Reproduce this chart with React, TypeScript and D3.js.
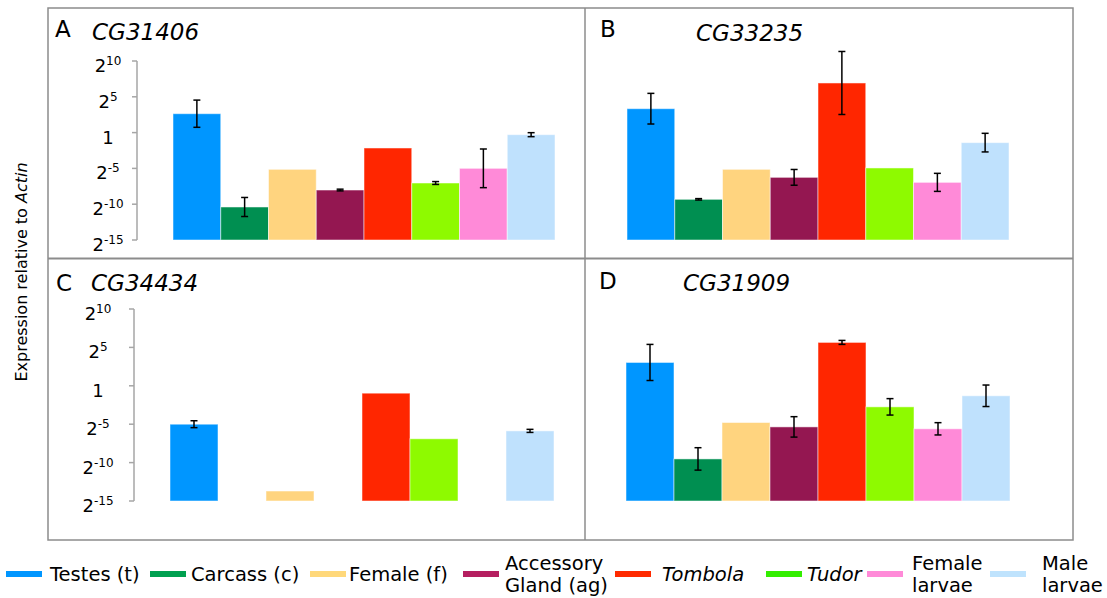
import React from 'react'
import * as d3 from 'd3'

// log2 expression relative to Actin
const tissues = ['Testes (t)', 'Carcass (c)', 'Female (f)', 'Accessory Gland (ag)', 'Tombola', 'Tudor', 'Female larvae', 'Male larvae']
const legendLines = [['Testes (t)'], ['Carcass (c)'], ['Female (f)'], ['Accessory', 'Gland (ag)'], ['Tombola'], ['Tudor'], ['Female', 'larvae'], ['Male', 'larvae']]
const italicTissues = ['Tombola', 'Tudor']

const genes = ['CG31406', 'CG33235', 'CG34434', 'CG31909']
const panelLetters = ['A', 'B', 'C', 'D']

const valuesA = [2.64, -10.39, -5.13, -8.02, -2.15, -7.04, -4.99, -0.29]
const errorsA = [1.9, 1.33, 0, 0.12, 0, 0.2, 2.7, 0.28]
const valuesB = [3.34, -9.32, -5.13, -6.25, 6.93, -4.94, -6.95, -1.4]
const errorsB = [2.14, 0.1, 0, 1.1, 4.4, 0, 1.26, 1.3]
const valuesC = [-5.0, null, -13.7, null, -0.96, -6.9, null, -5.87]
const errorsC = [0.45, 0, 0, 0, 0, 0, 0, 0.2]
const valuesD = [3.04, -9.52, -4.78, -5.35, 5.65, -2.74, -5.6, -1.3]
const errorsD = [2.35, 1.46, 0, 1.33, 0.26, 1.07, 0.8, 1.4]

const tickValues = [-15, -10, -5, 0, 5, 10]

const barColors = ['#0096ff', '#008f51', '#ffd47f', '#941751', '#ff2600', '#8efa00', '#ff8ad8', '#bfe1fd']
const legendColors = ['#0096ff', '#00a050', '#ffd87a', '#b51f60', '#ff2a00', '#33ee00', '#ff8ad8', '#bfe3fd']

const W = 1107
const H = 598
const FONT = 'DejaVu Sans, Verdana, sans-serif'

// layout of the 4 panels
const layout = [
  { x0: 173, x1: 555, yTop: 61, yBot: 240, axisX: 137, labelX: 108, letter: [55, 37], gene: [92, 40] },
  { x0: 627, x1: 1009, yTop: 61, yBot: 240, axisX: null, labelX: 0, letter: [600, 37], gene: [696, 41] },
  { x0: 170, x1: 554, yTop: 309, yBot: 501, axisX: 134, labelX: 98, letter: [56, 291], gene: [91, 291] },
  { x0: 626, x1: 1010, yTop: 309, yBot: 501, axisX: null, labelX: 0, letter: [599, 289], gene: [683, 291] },
]
const series = [
  [valuesA, errorsA],
  [valuesB, errorsB],
  [valuesC, errorsC],
  [valuesD, errorsD],
]

const legendSwatchX = [6, 150, 310, 463, 615, 766, 867, 990]
const legendTextX = [50, 191, 349, 505, 662, 807, 912, 1042]

function TickLabel({ v }: { v: number }) {
  if (v === 0) return <tspan>1</tspan>
  return (
    <>
      <tspan>2</tspan>
      <tspan fontSize={12} dy={-7}>{String(v)}</tspan>
    </>
  )
}

function Panel({ i }: { i: number }) {
  const L = layout[i]
  const [vals, errs] = series[i]
  const x = d3.scaleBand().domain(tissues).range([L.x0, L.x1]).padding(0)
  const y = d3.scaleLinear().domain([-15, 10]).range([L.yBot, L.yTop])
  const cap = 3.5
  return (
    <g>
      <text x={L.letter[0]} y={L.letter[1]} fontSize={23} fontFamily={FONT}>{panelLetters[i]}</text>
      <text x={L.gene[0]} y={L.gene[1]} fontSize={23} fontStyle="italic" fontFamily={FONT}>{genes[i]}</text>
      {L.axisX !== null && (
        <g>
          <line x1={L.axisX} x2={L.axisX} y1={y(10)} y2={y(-15)} stroke="#a6a6a6" strokeWidth={1.5} />
          {tickValues.map(t => (
            <g key={t}>
              <line x1={L.axisX - 5} x2={L.axisX} y1={y(t)} y2={y(t)} stroke="#a6a6a6" strokeWidth={1.5} />
              <text x={L.labelX} y={y(t) + 11} textAnchor="middle" fontSize={18} fontFamily={FONT}>
                <TickLabel v={t} />
              </text>
            </g>
          ))}
        </g>
      )}
      {tissues.map((t, k) => {
        const v = vals[k]
        if (v === null) return null
        return (
          <rect key={t} x={x(t)} y={y(v)} width={x.bandwidth()} height={y(-15) - y(v)}
            fill={barColors[k]} stroke="rgba(255,255,255,0.5)" strokeWidth={1} />
        )
      })}
      {tissues.map((t, k) => {
        const v = vals[k]
        const e = errs[k]
        if (v === null || !e) return null
        const cx = (x(t) as number) + x.bandwidth() / 2
        return (
          <g key={t} stroke="#000" strokeWidth={1.5}>
            <line x1={cx} x2={cx} y1={y(v + e)} y2={y(v - e)} />
            <line x1={cx - cap} x2={cx + cap} y1={y(v + e)} y2={y(v + e)} />
            <line x1={cx - cap} x2={cx + cap} y1={y(v - e)} y2={y(v - e)} />
          </g>
        )
      })}
    </g>
  )
}

export default function App() {
  return (
    <svg width={W} height={H} style={{ position: 'absolute', left: 0, top: 0, background: '#fff' }}>
      <rect x={48} y={8} width={1025} height={532} fill="none" stroke="#8c8c8c" strokeWidth={1.5} />
      <line x1={585} x2={585} y1={8} y2={540} stroke="#8c8c8c" strokeWidth={1.5} />
      <line x1={48} x2={1073} y1={258.5} y2={258.5} stroke="#8c8c8c" strokeWidth={2} />

      <text transform="translate(27,272) rotate(-90)" textAnchor="middle" fontSize={16} fontFamily={FONT}>
        Expression relative to <tspan fontStyle="italic">Actin</tspan>
      </text>

      {layout.map((_, i) => <Panel key={i} i={i} />)}

      {legendLines.map((lines, k) => (
        <g key={k}>
          <line x1={legendSwatchX[k]} x2={legendSwatchX[k] + 36} y1={574} y2={574}
            stroke={legendColors[k]} strokeWidth={6} />
          <text fontSize={19.5} fontFamily={FONT}
            fontStyle={italicTissues.includes(lines[0]) ? 'italic' : 'normal'}>
            {lines.map((s, j) => (
              <tspan key={j} x={legendTextX[k]} y={lines.length === 1 ? 581 : 570 + j * 22}>{s}</tspan>
            ))}
          </text>
        </g>
      ))}
    </svg>
  )
}
